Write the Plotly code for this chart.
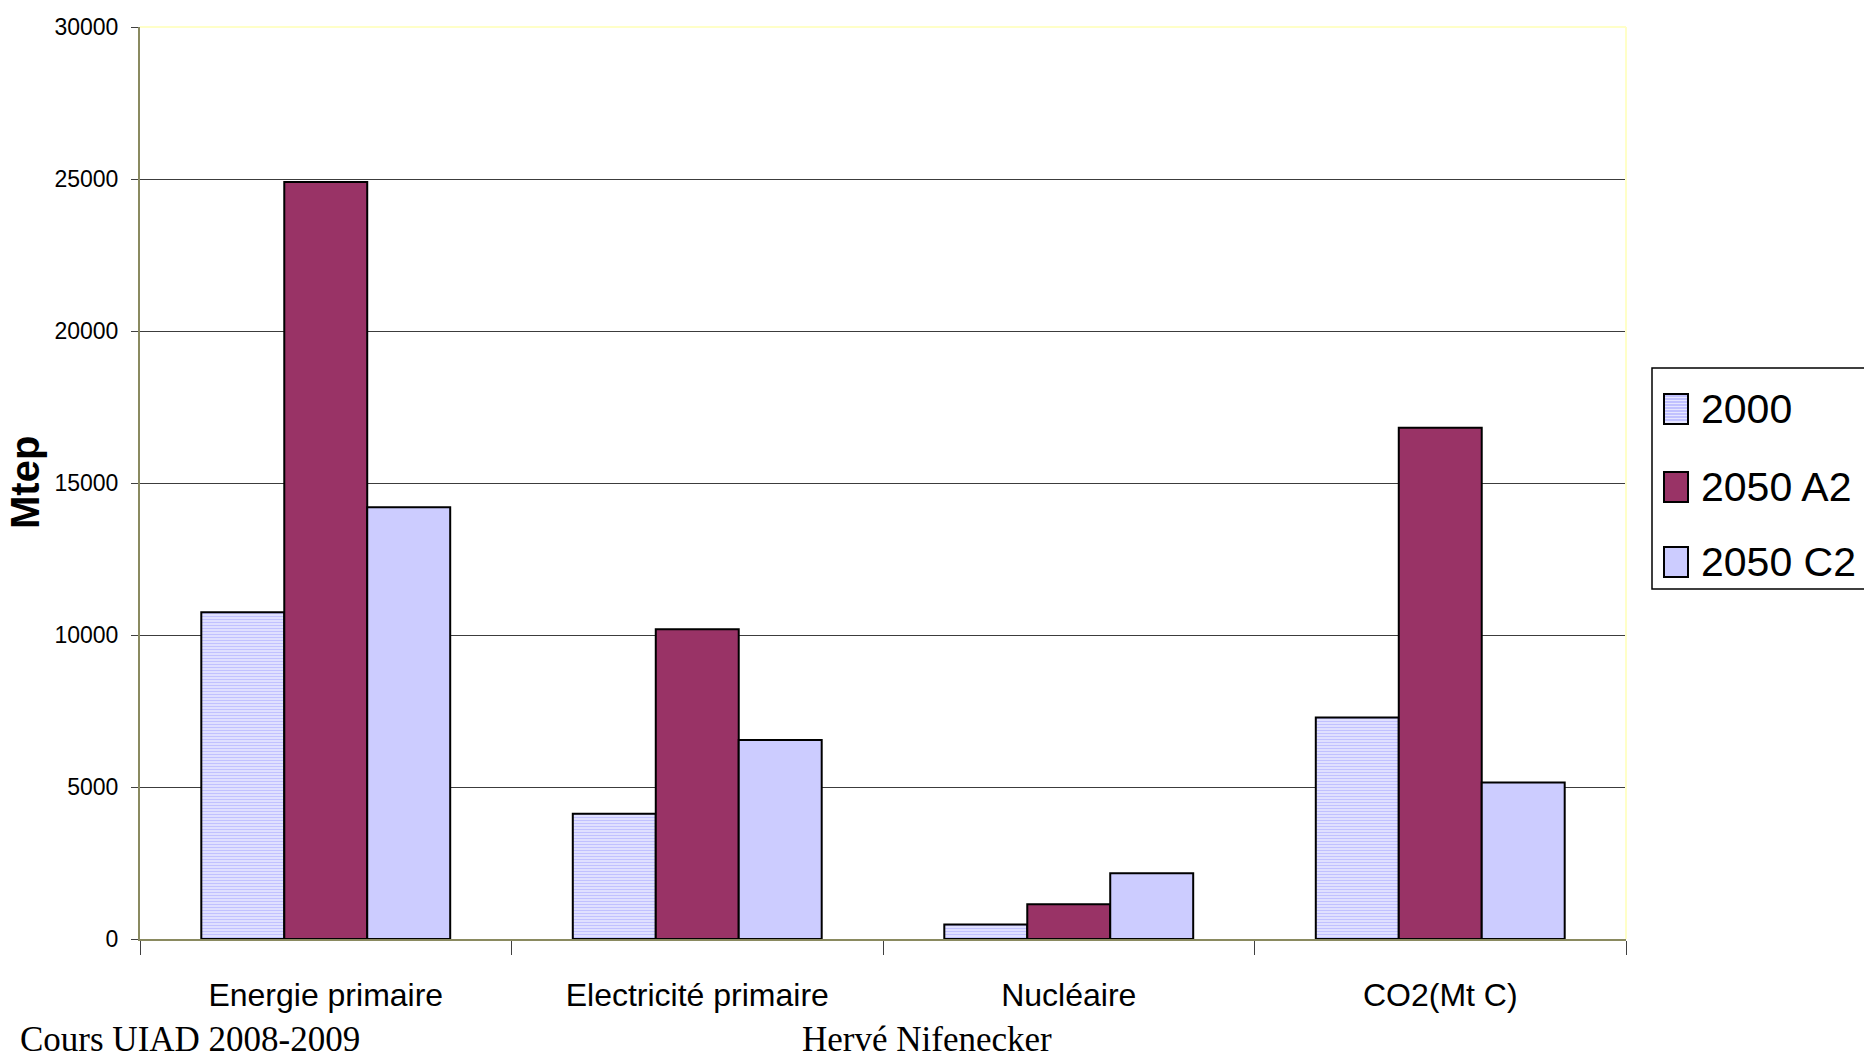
import plotly.graph_objects as go

# ---- data -------------------------------------------------------------
categories = ["Energie primaire", "Electricité primaire", "Nucléaire", "CO2(Mt C)"]
series_names = ["2000", "2050 A2", "2050 C2"]
values_2000 = [10750, 4120, 480, 7290]
values_2050_a2 = [24900, 10190, 1140, 16820]
values_2050_c2 = [14200, 6550, 2160, 5150]
y_ticks = [0, 5000, 10000, 15000, 20000, 25000, 30000]

# ---- geometry of the page ---------------------------------------------
W, H = 1864, 1058
L, R, T, B = 140, 1626, 27, 939          # plot area edges in pixels
PW, PH = R - L, B - T


def px(x):
    return (x - L) / PW


def py(y):
    return (B - y) / PH


SANS = "Liberation Sans, Arial, sans-serif"
SERIF = "Liberation Serif, Times New Roman, serif"

fig = go.Figure()

fig.add_trace(go.Bar(
    name=series_names[0], x=categories, y=values_2000,
    marker=dict(color="#dcdcff", line=dict(color="black", width=2),
                pattern=dict(shape="-", size=3, solidity=0.45,
                             fgcolor="#9c9cff", bgcolor="#e6e6ff")),
    showlegend=False,
))
fig.add_trace(go.Bar(
    name=series_names[1], x=categories, y=values_2050_a2,
    marker=dict(color="#993366", line=dict(color="black", width=2)),
    showlegend=False,
))
fig.add_trace(go.Bar(
    name=series_names[2], x=categories, y=values_2050_c2,
    marker=dict(color="#ccccff", line=dict(color="black", width=2)),
    showlegend=False,
))

shapes = []
annotations = []

# light yellow top and right frame of the plot area
shapes.append(dict(type="line", xref="paper", yref="paper", x0=0, x1=1, y0=1, y1=1,
                   line=dict(color="#ffffc8", width=2), layer="above"))
shapes.append(dict(type="line", xref="paper", yref="paper", x0=1, x1=1, y0=0, y1=1,
                   line=dict(color="#ffffc8", width=2), layer="above"))

# legend box
shapes.append(dict(type="rect", xref="paper", yref="paper",
                   x0=px(1652), x1=px(1875), y0=py(368), y1=py(589),
                   line=dict(color="black", width=1.5), fillcolor="white"))
legend_rows = [409, 487, 562]
swatch_fill = ["#e6e6ff", "#993366", "#ccccff"]
for name, yc, fill in zip(series_names, legend_rows, swatch_fill):
    shapes.append(dict(type="rect", xref="paper", yref="paper",
                       x0=px(1664), x1=px(1688), y0=py(yc - 15), y1=py(yc + 15),
                       line=dict(color="black", width=2), fillcolor=fill))
    annotations.append(dict(text=name, xref="paper", yref="paper",
                            x=px(1699), y=py(yc), xanchor="left", yanchor="middle",
                            showarrow=False,
                            font=dict(family=SANS, size=41, color="black")))
# striped swatch for the 2000 series
for yy in range(legend_rows[0] - 13, legend_rows[0] + 14, 3):
    shapes.append(dict(type="line", xref="paper", yref="paper",
                       x0=px(1665), x1=px(1687), y0=py(yy), y1=py(yy),
                       line=dict(color="#9c9cff", width=1)))

# y axis title
annotations.append(dict(text="<b>Mtep</b>", xref="paper", yref="paper",
                        x=px(25), y=py(482), textangle=-90, showarrow=False,
                        xanchor="center", yanchor="middle",
                        font=dict(family=SANS, size=40, color="black")))

# footer
annotations.append(dict(text="Cours UIAD 2008-2009", xref="paper", yref="paper",
                        x=px(18), y=py(1039), xanchor="left", yanchor="middle",
                        showarrow=False,
                        font=dict(family=SERIF, size=35, color="black")))
annotations.append(dict(text="Hervé Nifenecker", xref="paper", yref="paper",
                        x=px(927), y=py(1039), xanchor="center", yanchor="middle",
                        showarrow=False,
                        font=dict(family=SERIF, size=35, color="black")))

fig.update_layout(
    width=W, height=H, autosize=False,
    margin=dict(l=L, r=W - R, t=T, b=H - B, pad=0),
    paper_bgcolor="white", plot_bgcolor="white",
    barmode="group", bargap=0.33, bargroupgap=0,
    shapes=shapes, annotations=annotations,
    showlegend=False,
)

fig.update_xaxes(
    showline=True, linecolor="#8a8a60", linewidth=2,
    ticks="outside", tickson="boundaries", ticklen=14, tickcolor="#404040", tickwidth=1,
    showgrid=False, zeroline=False,
    tickfont=dict(family=SANS, size=32, color="black"),
    ticklabelstandoff=27,
)
fig.update_yaxes(
    range=[0, 30000], tickvals=y_ticks, ticktext=[str(v) for v in y_ticks],
    showline=True, linecolor="#8a8a60", linewidth=2,
    ticks="outside", ticklen=7, tickcolor="#404040", tickwidth=1,
    showgrid=True, gridcolor="#3c3c3c", gridwidth=1, zeroline=False,
    tickfont=dict(family=SANS, size=23, color="black"),
    ticklabelstandoff=8,
)

fig.write_html("out.html")
